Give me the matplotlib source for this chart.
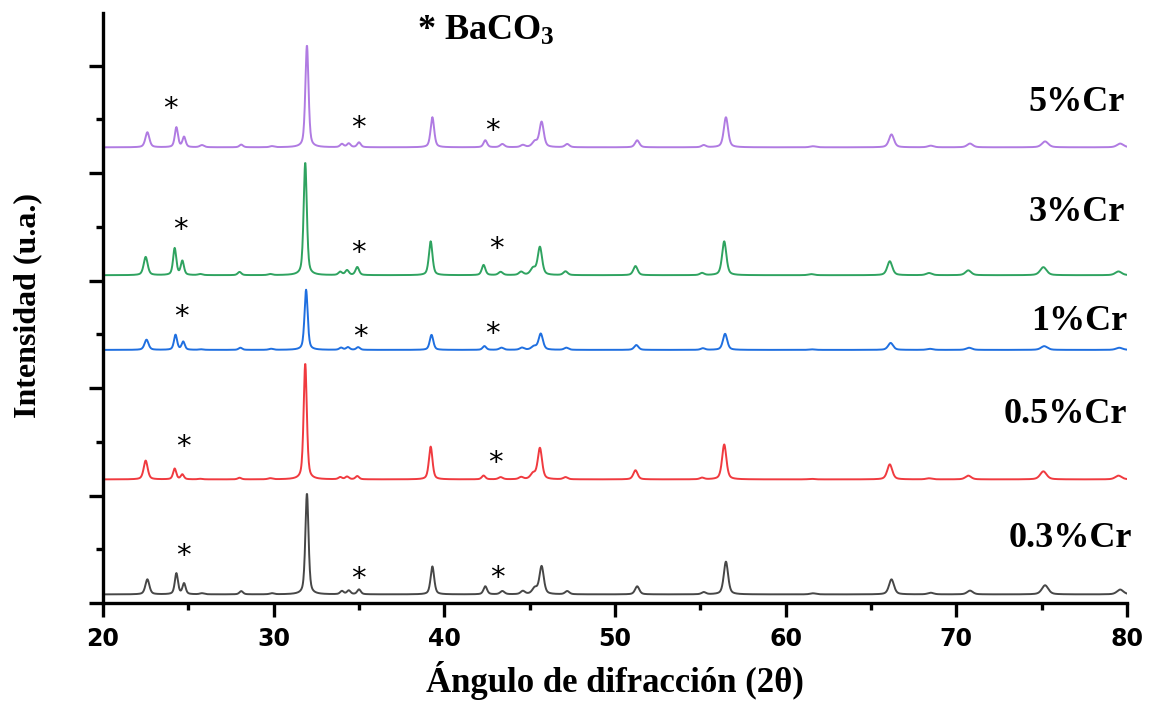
import numpy as np
import matplotlib
matplotlib.use("Agg")
import matplotlib.pyplot as plt
from matplotlib.ticker import MultipleLocator, NullFormatter

plt.rcParams["mathtext.fontset"] = "custom"
plt.rcParams["mathtext.rm"] = "Liberation Serif:bold"
plt.rcParams["mathtext.bf"] = "Liberation Serif:bold"
plt.rcParams["mathtext.default"] = "bf"

# Reflection positions (2theta, degrees) and peak widths (FWHM, degrees)
peak_pos = [22.6, 24.3, 24.75, 25.8, 28.1, 29.9, 31.95, 34.0, 34.4, 35.0,
            39.3, 42.4, 43.4, 44.6, 45.3, 45.7, 47.2, 51.3, 55.2, 56.5,
            61.6, 66.2, 68.5, 70.8, 75.2, 79.6]
peak_fwhm = [0.28, 0.22, 0.22, 0.30, 0.25, 0.30, 0.22, 0.25, 0.25, 0.25,
             0.25, 0.25, 0.30, 0.30, 0.35, 0.30, 0.30, 0.30, 0.30, 0.30,
             0.40, 0.35, 0.40, 0.40, 0.45, 0.45]

# Peak intensities (counts) per sample
i_03 = [140, 195, 100, 10, 30, 10, 940, 30, 35, 45, 260, 75, 30, 30, 55, 260,
        30, 75, 20, 305, 10, 140, 15, 35, 85, 45]
i_05 = [175, 100, 45, 5, 15, 10, 1080, 20, 25, 30, 305, 35, 20, 20, 50, 290,
        20, 85, 15, 325, 5, 140, 10, 35, 75, 35]
i_1 = [95, 140, 75, 5, 20, 10, 560, 20, 25, 25, 140, 35, 20, 20, 30, 150,
       20, 45, 15, 150, 5, 65, 10, 20, 35, 20]
i_3 = [170, 250, 130, 10, 30, 10, 1050, 30, 45, 75, 315, 95, 30, 30, 60, 260,
       35, 85, 20, 315, 10, 130, 20, 45, 75, 35]
i_5 = [140, 185, 95, 20, 25, 10, 950, 30, 35, 45, 280, 65, 30, 20, 50, 235,
       30, 65, 20, 280, 10, 120, 15, 35, 55, 35]

samples = ["0.3%Cr", "0.5%Cr", "1%Cr", "3%Cr", "5%Cr"]
intensities = [i_03, i_05, i_1, i_3, i_5]
offsets = [80, 1150, 2355, 3050, 4240]
shifts = [0.0, -0.1, -0.05, -0.1, 0.0]
colors = ["#474747", "#f03a3f", "#1f6fe0", "#2fa360", "#b07be2"]
label_x = [80.3, 80.0, 80.05, 79.9, 79.9]
label_y = [596, 1750, 2620, 3630, 4655]

# BaCO3 reflections marked in each pattern (x, y)
star_x = [[24.69, 34.94, 43.1], [24.69, 42.98], [24.57, 35.06, 42.8],
          [24.51, 34.94, 43.06], [23.93, 34.94, 42.8]]
star_y = [[476, 261, 270], [1490, 1341], [2700, 2514, 2542],
          [3510, 3296, 3333], [4639, 4460, 4432]]

two_theta = np.arange(20.0, 80.0001, 0.02)


def pattern(intens, shift):
    y = np.zeros_like(two_theta)
    for p, w, h in zip(peak_pos, peak_fwhm, intens):
        d = two_theta - (p + shift)
        lor = 1.0 / (1.0 + (2 * d / w) ** 2)
        gau = np.exp(-4 * np.log(2) * (d / w) ** 2)
        y += h * (0.5 * lor + 0.5 * gau)
    return y


fig = plt.figure(figsize=(11.5, 7.01), dpi=100)
ax = fig.add_axes([103 / 1150, 1 - 603 / 701, 1024 / 1150, 590 / 701])

for name, inten, off, sh, col, lx, ly, sx, sy in zip(
        samples, intensities, offsets, shifts, colors, label_x, label_y,
        star_x, star_y):
    ax.plot(two_theta, pattern(inten, sh) + off, color=col, lw=1.4)
    ax.text(lx, ly, name, ha="right", va="center", fontsize=26,
            fontweight="bold", family="Liberation Serif")
    for xs, ys in zip(sx, sy):
        ax.text(xs, ys - 40, "*", ha="center", va="center", fontsize=21,
                family="DejaVu Sans")

ax.text(38.4, 5316, r"* BaCO$_{3}$", ha="left", va="center", fontsize=26,
        fontweight="bold", family="Liberation Serif")

ax.set_xlim(20, 80)
ax.set_ylim(0, 5490)
ax.xaxis.set_major_locator(MultipleLocator(10))
ax.xaxis.set_minor_locator(MultipleLocator(5))
ax.yaxis.set_major_locator(MultipleLocator(1000))
ax.yaxis.set_minor_locator(MultipleLocator(500))
ax.yaxis.set_major_formatter(NullFormatter())

for s in ["top", "right"]:
    ax.spines[s].set_visible(False)
for s in ["left", "bottom"]:
    ax.spines[s].set_linewidth(2.4)

ax.tick_params(which="major", direction="out", length=10, width=2.4)
ax.tick_params(which="minor", direction="out", length=5, width=2.4)
ax.tick_params(axis="x", pad=7)
for lab in ax.get_xticklabels():
    lab.set_fontsize(17)
    lab.set_fontweight("bold")
    lab.set_family("DejaVu Sans")

fig.text(615 / 1150, 1 - 681 / 701, "Ángulo de difracción (2θ)", ha="center",
         va="center", fontsize=25, fontweight="bold", family="Liberation Serif")
fig.text(28 / 1150, 1 - 305 / 701, "Intensidad (u.a.)", ha="center",
         va="center", rotation=90, fontsize=23, fontweight="bold",
         family="Liberation Serif")

fig.savefig("out.png", dpi=100)
